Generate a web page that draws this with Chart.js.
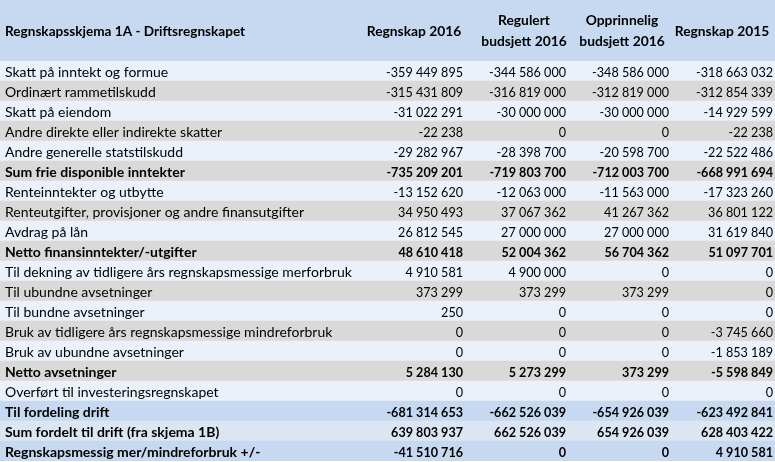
<!DOCTYPE html>
<html>
<head>
<meta charset="utf-8">
<script src="https://cdn.jsdelivr.net/npm/chart.js@4/dist/chart.umd.min.js"></script>
<style>
    body { margin: 0; background: #ffffff; }
    canvas { display: block; }
</style>
</head>
<body>
<canvas id="tableChart" width="775" height="462"></canvas>
<script>
const tableTitle = 'Regnskapsskjema 1A - Driftsregnskapet';
const columnHeaders = [
    ['Regnskap 2016'],
    ['Regulert', 'budsjett 2016'],
    ['Opprinnelig', 'budsjett 2016'],
    ['Regnskap 2015']
];
const rowLabels = [
    'Skatt på inntekt og formue',
    'Ordinært rammetilskudd',
    'Skatt på eiendom',
    'Andre direkte eller indirekte skatter',
    'Andre generelle statstilskudd',
    'Sum frie disponible inntekter',
    'Renteinntekter og utbytte',
    'Renteutgifter, provisjoner og andre finansutgifter',
    'Avdrag på lån',
    'Netto finansinntekter/-utgifter',
    'Til dekning av tidligere års regnskapsmessige merforbruk',
    'Til ubundne avsetninger',
    'Til bundne avsetninger',
    'Bruk av tidligere års regnskapsmessige mindreforbruk',
    'Bruk av ubundne avsetninger',
    'Netto avsetninger',
    'Overført til investeringsregnskapet',
    'Til fordeling drift',
    'Sum fordelt til drift (fra skjema 1B)',
    'Regnskapsmessig mer/mindreforbruk +/-'
];
const regnskap2016 = [-359449895, -315431809, -31022291, -22238, -29282967, -735209201, -13152620, 34950493, 26812545, 48610418, 4910581, 373299, 250, 0, 0, 5284130, 0, -681314653, 639803937, -41510716];
const regulert2016 = [-344586000, -316819000, -30000000, 0, -28398700, -719803700, -12063000, 37067362, 27000000, 52004362, 4900000, 373299, 0, 0, 0, 5273299, 0, -662526039, 662526039, 0];
const opprinnelig2016 = [-348586000, -312819000, -30000000, 0, -20598700, -712003700, -11563000, 41267362, 27000000, 56704362, 0, 373299, 0, 0, 0, 373299, 0, -654926039, 654926039, 0];
const regnskap2015 = [-318663032, -312854339, -14929599, -22238, -22522486, -668991694, -17323260, 36801122, 31619840, 51097701, 0, 0, 0, -3745660, -1853189, -5598849, 0, -623492841, 628403422, 4910581];
const boldRows = [5, 9, 15, 17, 18, 19];

// layout (pixels on the x scale, which runs 0..tableWidth)
const tableWidth = 775;
const headerHeight = 61;
const labelLeft = 5;
const valueRight = [463, 566, 669, 773];
const headerCenter = [414, 524, 622, 722];
const fontFamily = 'Lato, "Open Sans", sans-serif';
const numberSqueeze = 0.9; // Calibri digits are narrower than Lato's

const headerColor = '#c6d9f1';
const lightRow = '#eaf1fa';
const grayRow = '#d9d9d9';
const sumBlue = '#c6d9f1';
const sumLight = '#dce6f2';

const columns = [regnskap2016, regulert2016, opprinnelig2016, regnskap2015];

function rowColor(i) {
    if (i === 17 || i === 19) return sumBlue;
    if (i === 18) return sumLight;
    return i % 2 === 0 ? lightRow : grayRow;
}

function formatNumber(v) {
    const sign = v < 0 ? '-' : '';
    const digits = Math.abs(v).toString();
    return sign + digits.replace(/\B(?=(\d{3})+(?!\d))/g, ' ');
}

const tableText = {
    id: 'tableText',
    afterDatasetsDraw(chart) {
        const ctx = chart.ctx;
        const x = chart.scales.x;
        const y = chart.scales.y;
        const top = chart.chartArea.top;

        ctx.save();
        // header band
        ctx.fillStyle = headerColor;
        ctx.fillRect(x.getPixelForValue(0), 0, x.getPixelForValue(tableWidth) - x.getPixelForValue(0), top);
        ctx.fillStyle = '#000000';
        ctx.textBaseline = 'middle';
        ctx.font = 'bold 13.6px ' + fontFamily;
        ctx.textAlign = 'left';
        ctx.fillText(tableTitle, x.getPixelForValue(labelLeft), top / 2 + 1);
        ctx.font = 'bold 13.8px ' + fontFamily;
        ctx.textAlign = 'center';
        columnHeaders.forEach((lines, c) => {
            const cx = x.getPixelForValue(headerCenter[c]);
            if (lines.length === 1) {
                ctx.fillText(lines[0], cx, top / 2 + 1);
            } else {
                ctx.fillText(lines[0], cx, top / 2 - 10);
                ctx.fillText(lines[1], cx, top / 2 + 11);
            }
        });

        // body rows
        rowLabels.forEach((label, i) => {
            const cy = y.getPixelForValue(i) + 1;
            const bold = boldRows.includes(i);
            ctx.font = (bold ? 'bold ' : '') + '14px ' + fontFamily;
            ctx.textAlign = 'left';
            ctx.fillText(label, x.getPixelForValue(labelLeft), cy);
            ctx.textAlign = 'right';
            columns.forEach((col, c) => {
                const rx = x.getPixelForValue(valueRight[c]);
                ctx.save();
                ctx.translate(rx, cy);
                ctx.scale(numberSqueeze, 1);
                ctx.fillText(formatNumber(col[i]), 0, 0);
                ctx.restore();
            });
        });
        ctx.restore();
    }
};

new Chart(document.getElementById('tableChart').getContext('2d'), {
    type: 'bar',
    data: {
        labels: rowLabels,
        datasets: [{
            data: rowLabels.map(() => tableWidth),
            backgroundColor: rowLabels.map((_, i) => rowColor(i)),
            borderWidth: 0,
            barPercentage: 1,
            categoryPercentage: 1
        }]
    },
    options: {
        indexAxis: 'y',
        responsive: false,
        animation: false,
        layout: { padding: { top: headerHeight, bottom: 1, left: 0, right: 0 } },
        plugins: {
            legend: { display: false },
            tooltip: { enabled: false }
        },
        scales: {
            x: { display: false, min: 0, max: tableWidth },
            y: { display: false }
        }
    },
    plugins: [tableText]
});
</script>
</body>
</html>
